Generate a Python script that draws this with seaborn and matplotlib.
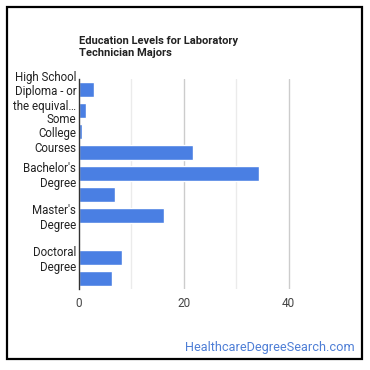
import matplotlib
matplotlib.use("Agg")
import matplotlib.pyplot as plt
import seaborn as sns
import pandas as pd
from matplotlib.patches import Rectangle

categories = [
    "High School Diploma - or the equivalent",
    "Post-Secondary Certificate",
    "Some College Courses",
    "Associate's Degree",
    "Bachelor's Degree",
    "Post-Baccalaureate Certificate",
    "Master's Degree",
    "Post-Master's Certificate",
    "Doctoral Degree",
    "Post-Doctoral Training",
]
values = [2.9, 1.4, 0.6, 21.8, 34.3, 6.9, 16.2, 0.25, 8.2, 6.3]
tick_labels = [
    "High School\nDiploma - or\nthe equival…", "",
    "Some\nCollege\nCourses", "",
    "Bachelor's\nDegree", "",
    "Master's\nDegree", "",
    "Doctoral\nDegree", "",
]
x_ticks = [0, 20, 40]

sns.set_style("white")
plt.rcParams['font.family'] = ['Roboto', 'DejaVu Sans']

df = pd.DataFrame({"category": categories, "value": values})

fig = plt.figure(figsize=(3.7, 3.7), dpi=100)
ax = fig.add_axes([79/370, 1-289/370, (341-79)/370, (289-79)/370])

for g in [10, 30]:
    ax.axvline(g, color="#ebebeb", lw=1, zorder=0)
for g in [20, 40]:
    ax.axvline(g, color="#cccccc", lw=1, zorder=0)

sns.barplot(data=df, y="category", x="value", orient="h", color="#4a7fe3",
            saturation=1, width=0.67, ax=ax, zorder=2)

ax.set_xlim(0, 50)
ax.set_ylim(9.5, -0.5)
ax.set_xticks(x_ticks)
ax.set_xticklabels([str(t) for t in x_ticks], fontsize=8.5, color="#444444")
ax.set_yticks(range(len(categories)))
ax.set_yticklabels(tick_labels, fontsize=8.3, color="#222222", linespacing=1.15)
ax.tick_params(axis="y", length=0, pad=2)
ax.tick_params(axis="x", length=0, pad=6)
ax.set_xlabel("")
ax.set_ylabel("")
for s in ["top", "right", "bottom"]:
    ax.spines[s].set_visible(False)
ax.spines["left"].set_color("#333333")
ax.spines["left"].set_linewidth(1)

fig.text(79/370, 1-36/370, "Education Levels for Laboratory\nTechnician Majors",
         fontsize=8, fontweight="bold", color="#222222", ha="left", va="top",
         linespacing=1.3)
fig.text(355/370, 1-348/370, "HealthcareDegreeSearch.com", fontsize=9.2,
         color="#4f7fd6", ha="right", va="center")

fig.patches.append(Rectangle((7/370, 11/370), 355/370, 352/370,
                             transform=fig.transFigure, fill=False,
                             edgecolor="black", lw=1.6))

fig.savefig("out.png", dpi=100)
